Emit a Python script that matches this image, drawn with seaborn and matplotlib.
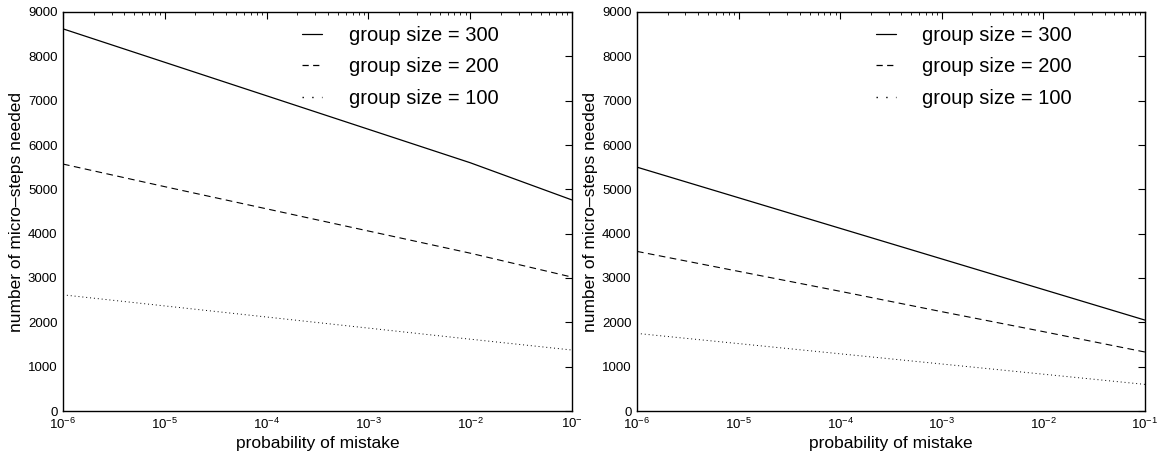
import numpy as np
import pandas as pd
import matplotlib
matplotlib.use("Agg")
import matplotlib.pyplot as plt
import matplotlib.ticker as mticker
from matplotlib.lines import Line2D
import seaborn as sns

# probability of mistake (x, log scale)
prob = [1e-6, 1e-5, 1e-4, 1e-3, 1e-2, 1e-1]

# left panel: micro-steps needed per group size
left_300 = [8620, 7865, 7110, 6355, 5600, 4760]
left_200 = [5570, 5060, 4560, 4060, 3560, 3020]
left_100 = [2620, 2370, 2120, 1870, 1620, 1375]

# right panel
right_300 = [5500, 4810, 4120, 3430, 2740, 2050]
right_200 = [3600, 3150, 2700, 2240, 1790, 1330]
right_100 = [1750, 1520, 1290, 1060, 830, 600]

groups = ["group size = 300", "group size = 200", "group size = 100"]
xtick_labels_left = ["$10^{-6}$", "$10^{-5}$", "$10^{-4}$", "$10^{-3}$", "$10^{-2}$", "$10^{-}$"]
xtick_labels_right = ["$10^{-6}$", "$10^{-5}$", "$10^{-4}$", "$10^{-3}$", "$10^{-2}$", "$10^{-1}$"]

sns.set_style("white")
plt.rcParams["font.family"] = ["Liberation Sans", "DejaVu Sans"]
plt.rcParams["mathtext.fontset"] = "custom"
plt.rcParams["mathtext.rm"] = "Liberation Sans"
plt.rcParams["mathtext.it"] = "Liberation Sans:italic"
for key in ["text.color", "axes.labelcolor", "xtick.color", "ytick.color", "axes.edgecolor"]:
    plt.rcParams[key] = "black"

styles = {
    "group size = 300": dict(linestyle="-", linewidth=0.9),
    "group size = 200": dict(linestyle=(0, (6, 4)), linewidth=0.8),
    "group size = 100": dict(linestyle=(0, (1, 3)), linewidth=0.7),
}
# legend samples are drawn a bit coarser, like the original
legend_styles = {
    "group size = 300": dict(linestyle="-", linewidth=0.9),
    "group size = 200": dict(linestyle=(0, (5, 3.5)), linewidth=0.9),
    "group size = 100": dict(linestyle=(0, (1, 6)), linewidth=1.0),
}

fig = plt.figure(figsize=(11.66, 4.62), dpi=100)
ax_l = fig.add_axes([63 / 1166, 1 - 411 / 462, 509 / 1166, 399 / 462])
ax_r = fig.add_axes([637 / 1166, 1 - 411 / 462, 508 / 1166, 399 / 462])

panels = [
    (ax_l, [left_300, left_200, left_100], xtick_labels_left),
    (ax_r, [right_300, right_200, right_100], xtick_labels_right),
]

for ax, series, xlabels in panels:
    for name, vals in zip(groups, series):
        df = pd.DataFrame({"prob": prob, "steps": vals})
        sns.lineplot(data=df, x="prob", y="steps", ax=ax, color="black",
                     legend=False, **styles[name])
    ax.set_xscale("log")
    ax.set_xlim(1e-6, 1e-1)
    ax.set_ylim(0, 9000)
    ax.set_yticks(np.arange(0, 9001, 1000))
    ax.set_xticks(prob)
    ax.set_xticklabels(xlabels)
    ax.xaxis.set_minor_locator(mticker.LogLocator(base=10, subs=np.arange(2, 10)))
    ax.xaxis.set_minor_formatter(mticker.NullFormatter())
    ax.tick_params(which="major", direction="in", length=5, width=0.8,
                   top=True, right=True, labelsize=9.5, pad=4)
    ax.tick_params(which="minor", direction="in", length=2.5, width=0.6,
                   top=True, right=True)
    for sp in ax.spines.values():
        sp.set_linewidth(1.0)
    ax.set_xlabel("probability of mistake", fontsize=12.5, labelpad=3)
    ax.set_ylabel("number of micro–steps needed", fontsize=12.5, labelpad=3)
    handles = [Line2D([], [], color="black", **legend_styles[g]) for g in groups]
    ax.legend(handles, groups, loc="upper left", frameon=False, fontsize=14.5,
              handlelength=1.0, handletextpad=1.3, labelspacing=0.62,
              borderaxespad=0.0, borderpad=0.0,
              bbox_to_anchor=(0.47, 0.965))

fig.savefig("out.png", dpi=100)
